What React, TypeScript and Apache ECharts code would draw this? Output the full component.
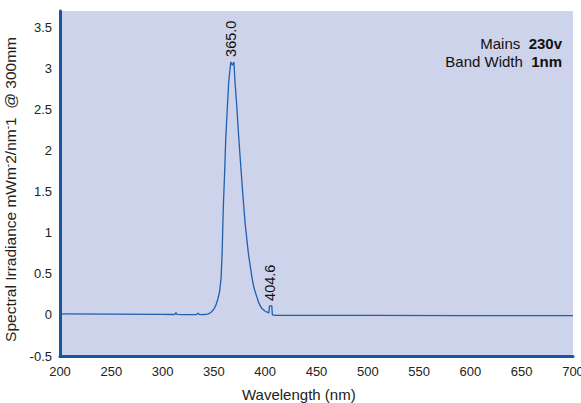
import React, { useEffect, useRef } from "react";
import * as echarts from "echarts";

const wavelengths = [
  200, 250, 300, 310, 312, 313, 314, 320, 333, 334.6, 336, 340, 344, 347, 350,
  352, 354, 355.5, 357, 358, 359.2, 360.5, 361.5, 363, 364.5, 366.5, 368,
  369.5, 370.5, 372.3, 374, 375.5, 378, 380.4, 383.6, 386.9, 389, 391.8, 394,
  396.6, 400, 403.5, 404.2, 404.6, 406.4, 407, 410, 500, 600, 700,
];
const irradiance = [
  0.012, 0.01, 0.006, 0.005, 0.006, 0.03, 0.006, 0.004, 0.004, 0.02, 0.004,
  0.005, 0.01, 0.03, 0.07, 0.12, 0.2, 0.28, 0.45, 0.75, 1.32, 1.75, 2.13, 2.5,
  2.85, 3.08, 3.04, 3.08, 2.85, 2.54, 2.2, 1.93, 1.5, 1.12, 0.75, 0.47, 0.33,
  0.22, 0.14, 0.08, 0.045, 0.025, 0.11, 0.11, 0.11, 0.0, -0.004, -0.006,
  -0.008, -0.008,
];
const peakAt = [366.5, 404.6];
const peakText = ["365.0", "404.6"];

const xMin = 200;
const xMax = 700;
const xStep = 50;
const yMin = -0.5;
const yMax = 3.7;
const yStep = 0.5;

const FONT = "Liberation Sans, Arial, sans-serif";
const BLUE = "#1f5fae";

export default function App() {
  const ref = useRef<HTMLDivElement>(null);
  useEffect(() => {
    if (!ref.current) return;
    const chart = echarts.init(ref.current, undefined, { renderer: "svg" });
    const data = wavelengths.map((w, i) => [w, irradiance[i]]);
    const markData = peakAt.map((w, k) => ({
      coord: [w, irradiance[wavelengths.indexOf(w)]],
      label: { formatter: peakText[k] },
    }));
    chart.setOption({
      animation: false,
      grid: {
        left: 60,
        right: 8,
        top: 11,
        bottom: 47,
        show: true,
        backgroundColor: "#cdd3ea",
        borderWidth: 0,
        containLabel: false,
        outerBoundsMode: "none",
      },
      xAxis: {
        type: "value",
        min: xMin,
        max: xMax,
        interval: xStep,
        axisLine: { show: true, onZero: false, lineStyle: { color: "#1a56a0", width: 3 } },
        axisTick: { show: false },
        splitLine: { show: false },
        axisLabel: { color: "#222", fontSize: 13, fontFamily: FONT, margin: 9 },
      },
      yAxis: {
        type: "value",
        min: yMin,
        max: yMax,
        interval: yStep,
        name: "Spectral Irradiance mWm{s|-}2/nm{s|-}1  @ 300mm",
        nameLocation: "middle",
        nameGap: 37,
        nameTextStyle: {
          color: "#222",
          fontSize: 15.5,
          fontFamily: FONT,
          padding: [0, 12, 0, 0],
          rich: {
            s: { fontSize: 10, verticalAlign: "top", padding: [0, 0, 7, 0], color: "#222", fontFamily: FONT },
          },
        },
        axisLine: { show: true, onZero: false, lineStyle: { color: "#1a56a0", width: 3 } },
        axisTick: { show: false },
        splitLine: { show: false },
        axisLabel: {
          color: "#222",
          fontSize: 13,
          fontFamily: FONT,
          margin: 8,
          showMaxLabel: false,
        },
      },
      graphic: [
        {
          type: "text",
          left: 242,
          top: 387,
          style: { text: "Wavelength (nm)", fill: "#222", fontSize: 15, fontFamily: FONT },
        },
        {
          type: "text",
          right: 19,
          top: 36,
          style: {
            text: "Mains  {b|230v}",
            fill: "#111",
            fontSize: 15,
            fontFamily: FONT,
            rich: { b: { fontWeight: "bold", fontSize: 15, fontFamily: FONT, fill: "#111" } },
          },
        },
        {
          type: "text",
          right: 19,
          top: 54,
          style: {
            text: "Band Width  {b|1nm}",
            fill: "#111",
            fontSize: 15,
            fontFamily: FONT,
            rich: { b: { fontWeight: "bold", fontSize: 15, fontFamily: FONT, fill: "#111" } },
          },
        },
      ],
      series: [
        {
          type: "line",
          data,
          showSymbol: false,
          symbol: "none",
          lineStyle: { color: BLUE, width: 1.3 },
          itemStyle: { color: BLUE },
          markPoint: {
            symbol: "circle",
            symbolSize: 0,
            silent: true,
            itemStyle: { color: "transparent" },
            label: {
              show: true,
              position: "top",
              rotate: 90,
              align: "left",
              verticalAlign: "middle",
              distance: 5,
              color: "#111",
              fontSize: 14.5,
              fontFamily: FONT,
            },
            data: markData,
          },
        },
      ],
    });
    return () => chart.dispose();
  }, []);
  return <div ref={ref} style={{ width: 581, height: 403, position: "absolute", left: 0, top: 0 }} />;
}
